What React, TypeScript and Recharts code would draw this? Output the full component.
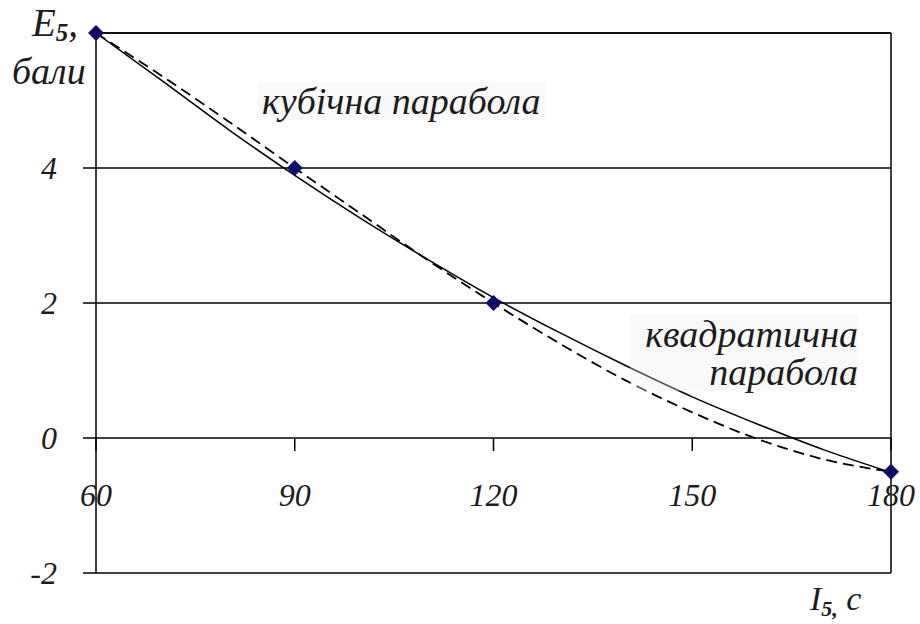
import React from 'react';
import { ComposedChart, Line, Scatter, XAxis, YAxis, CartesianGrid, ReferenceLine, ReferenceDot } from 'recharts';

// measured points (I5, s -> E5, points)
const measured = [
  { x: 60, y: 6 },
  { x: 90, y: 4 },
  { x: 120, y: 2 },
  { x: 180, y: -0.5 },
];

// curves, every 10 s
const xs = [60, 70, 80, 90, 100, 110, 120, 130, 140, 150, 160, 170, 180];
const quadratic = [6.0, 5.29, 4.57, 3.89, 3.25, 2.65, 2.08, 1.56, 1.07, 0.61, 0.2, -0.18, -0.51];
const cubic = [6.0, 5.36, 4.69, 4.0, 3.32, 2.64, 2.0, 1.4, 0.85, 0.38, -0.02, -0.32, -0.5];

const xTicks = [60, 90, 120, 150, 180];
const yTicks = [-2, 0, 2, 4];

const quadData = xs.map((x, i) => ({ x, y: quadratic[i] }));
const cubicData = xs.map((x, i) => ({ x, y: cubic[i] }));

const FONT = '"Liberation Serif", "DejaVu Serif", serif';
const INK = '#1c1c1c';

const textStyle: React.CSSProperties = {
  position: 'absolute',
  fontFamily: FONT,
  fontStyle: 'italic',
  fontSize: 38,
  color: INK,
  lineHeight: 1,
  whiteSpace: 'nowrap',
};

// subscript that doesn't grow the line box
const subStyle: React.CSSProperties = { fontWeight: 'bold', fontStyle: 'italic', position: 'relative' };

const Diamond = (props: any) => {
  const { cx, cy } = props;
  const r = 8;
  return <polygon points={`${cx},${cy - r} ${cx + r},${cy} ${cx},${cy + r} ${cx - r},${cy}`} fill="#0c0c6e" />;
};

const YTick = (props: any) => {
  const { x, y, payload } = props;
  return (
    <text x={x - 24} y={y + 11} textAnchor="end" fontFamily={FONT} fontStyle="italic" fontSize={32} fill={INK}>
      {payload.value}
    </text>
  );
};

const XTickMark = (label: number) => (props: any) => {
  const { cx, cy } = props;
  return (
    <g>
      <line x1={cx} y1={cy} x2={cx} y2={cy + 13} stroke="#000" strokeWidth={1.5} />
      <text x={cx} y={cy + 68} textAnchor="middle" fontFamily={FONT} fontStyle="italic" fontSize={32} fill={INK}>
        {label}
      </text>
    </g>
  );
};

export default function App() {
  return (
    <div style={{ position: 'absolute', left: 0, top: 0, width: 920, height: 624, background: '#fff', overflow: 'hidden' }}>
      <ComposedChart width={920} height={624} margin={{ top: 33, right: 29, bottom: 51, left: 0 }}>
        <CartesianGrid vertical={false} stroke="#000" strokeWidth={1.5} />
        <XAxis dataKey="x" type="number" domain={[60, 180]} ticks={xTicks} hide />
        <YAxis
          dataKey="y"
          type="number"
          domain={[-2, 6]}
          ticks={yTicks}
          interval={0}
          width={96}
          tickSize={13}
          axisLine={{ stroke: '#000', strokeWidth: 1.5 }}
          tickLine={{ stroke: '#000', strokeWidth: 1.5 }}
          tick={<YTick />}
        />
        <ReferenceLine y={6} stroke="#000" strokeWidth={1.5} ifOverflow="visible" />
        <ReferenceLine x={180} stroke="#000" strokeWidth={1.5} ifOverflow="visible" />
        {xTicks.map((t) => (
          <ReferenceDot key={t} x={t} y={0} r={0} ifOverflow="visible" shape={XTickMark(t)} />
        ))}
        <Line data={quadData} dataKey="y" type="monotone" stroke="#000" strokeWidth={1.5} dot={false} isAnimationActive={false} />
        <Line data={cubicData} dataKey="y" type="monotone" stroke="#000" strokeWidth={1.8} strokeDasharray="11 6" dot={false} isAnimationActive={false} />
        <Scatter data={measured} dataKey="y" shape={<Diamond />} isAnimationActive={false} />
      </ComposedChart>

      <div style={{ ...textStyle, left: 32, top: 3, fontSize: 39 }}>
        E<span style={{ ...subStyle, fontSize: 25, top: 5 }}>5</span>,
      </div>
      <div style={{ ...textStyle, left: 12, top: 52 }}>бали</div>
      <div style={{ ...textStyle, left: 258, top: 82, padding: '0 4px', background: 'rgba(238,238,238,0.35)' }}>кубічна парабола</div>
      <div
        style={{
          ...textStyle,
          left: 630,
          top: 315,
          width: 228,
          textAlign: 'right',
          lineHeight: '38px',
          background: 'rgba(238,238,238,0.35)',
        }}
      >
        квадратична
        <br />
        парабола
      </div>
      <div style={{ ...textStyle, left: 810, top: 582, fontSize: 34 }}>
        I<span style={{ ...subStyle, fontSize: 22, top: 6 }}>5,</span> c
      </div>
    </div>
  );
}
